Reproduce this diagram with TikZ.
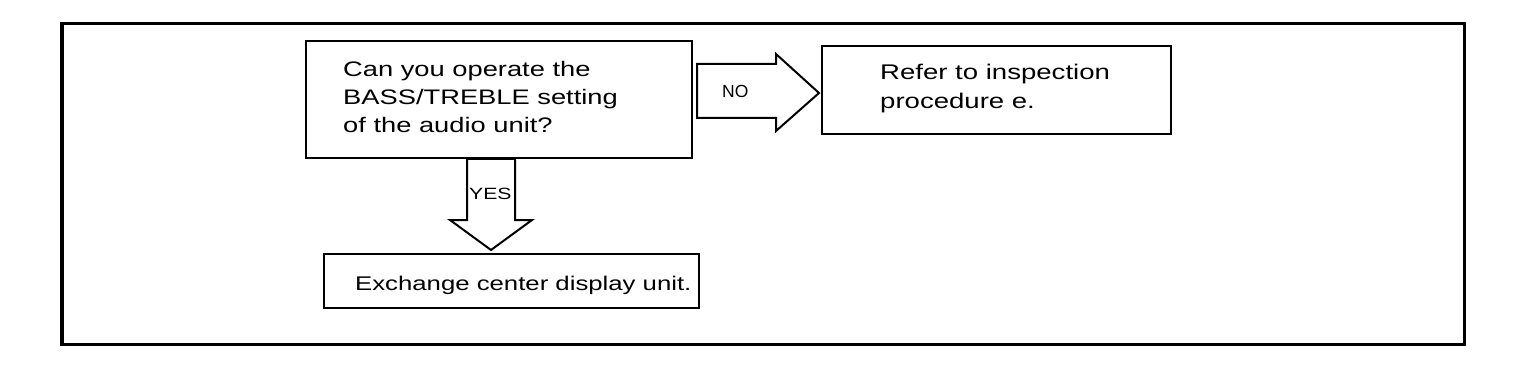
\documentclass[tikz,border=0pt]{standalone}
\usepackage{fontspec}
\setmainfont[FakeStretch=1.3]{Liberation Sans}
\newfontfamily\plainsans{Liberation Sans}
\usetikzlibrary{calc}
\begin{document}
\begin{tikzpicture}[x=1pt,y=-1pt,
  box/.style={draw, line width=2pt, rectangle, inner sep=0pt, anchor=north west},
  outerframe/.style={draw, line width=3.5pt},
  txt/.style={inner sep=0pt, align=left, font=\fontsize{21}{28}\selectfont},
  etxt/.style={inner sep=0pt, font=\fontsize{19.8}{24}\selectfont},
  yestxt/.style={inner sep=0pt, font=\fontsize{16.3}{18}\selectfont},
  notxt/.style={inner sep=0pt, font=\plainsans\fontsize{17.5}{19}\selectfont},
  bigarrow/.style={draw, line width=2pt, line join=miter}]
\useasboundingbox (0,0) rectangle (1520,374);
\draw[outerframe] (62,23.5) rectangle (1464.5,344.5);

\node[box, minimum width=386, minimum height=117] (q) at (305,40) {};
\node[txt, anchor=west] (qt) at (343,97) {Can you operate the\\BASS/TREBLE setting\\of the audio unit?};

\node[box, minimum width=349, minimum height=88] (r) at (821,45) {};
\node[txt, anchor=west, font=\fontsize{21.2}{29}\selectfont] (rt) at (880,89) {Refer to inspection\\procedure e.};

\node[box, minimum width=375, minimum height=54] (e) at (323,253) {};
\node[etxt, anchor=base west] (et) at (355,290) {Exchange center display unit.};

% NO arrow
\coordinate (na) at ([xshift=4pt,yshift=8.5pt]q.east);
\draw[bigarrow] (na) ++(0,-27) -- ++(79,0) -- ++(0,-10) -- ++(43,39) -- ++(-43,38) -- ++(0,-13) -- ++(-79,0) -- cycle;
\node[notxt, anchor=base west] (no) at (722,98) {NO};

% YES arrow
\coordinate (ya) at ([xshift=-8pt]q.south);
\draw[bigarrow] (ya) ++(-24,0) -- ++(0,61) -- ++(-17,0) -- ++(41,30) -- ++(41,-30) -- ++(-17,0) -- ++(0,-61) -- cycle;
\node[yestxt, anchor=base west] (yes) at (469,200) {YES};
\end{tikzpicture}
\end{document}
